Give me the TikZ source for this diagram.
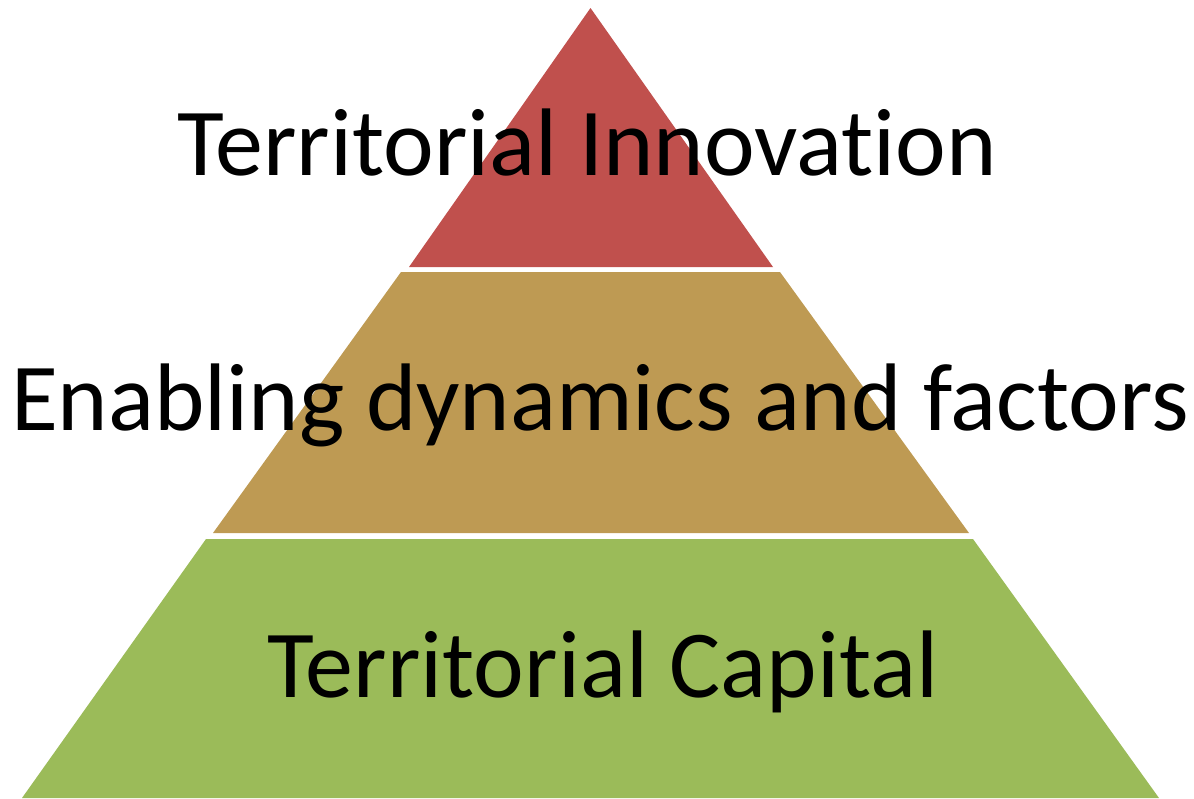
\documentclass[tikz,border=0pt]{standalone}
\usepackage{fontspec}
\setmainfont[Ligatures=NoCommon]{Carlito}
\definecolor{topred}{HTML}{C0504D}
\definecolor{midtan}{HTML}{BE9A53}
\definecolor{botgreen}{HTML}{9BBB59}
\begin{document}
\begin{tikzpicture}[x=1pt,y=-1pt,
  layertext/.style={anchor=base,inner sep=0pt,font=\fontsize{96}{115}\selectfont}]
\useasboundingbox (0,0) rectangle (1194,798);
\fill[topred] (590.5,8) -- (773,267) -- (409,267) -- cycle;
\fill[midtan] (401,272) -- (780,272) -- (969,533) -- (213,533) -- cycle;
\fill[botgreen] (206,539) -- (973,539) -- (1159,798) -- (22,798) -- cycle;
\node[layertext] (t1) at (587,175) {Territorial Innovation};
\node[layertext] (t2) at (600,430) {Enabling dynamics and factors};
\node[layertext] (t3) at (603,697) {Territorial Capital};
\end{tikzpicture}
\end{document}
